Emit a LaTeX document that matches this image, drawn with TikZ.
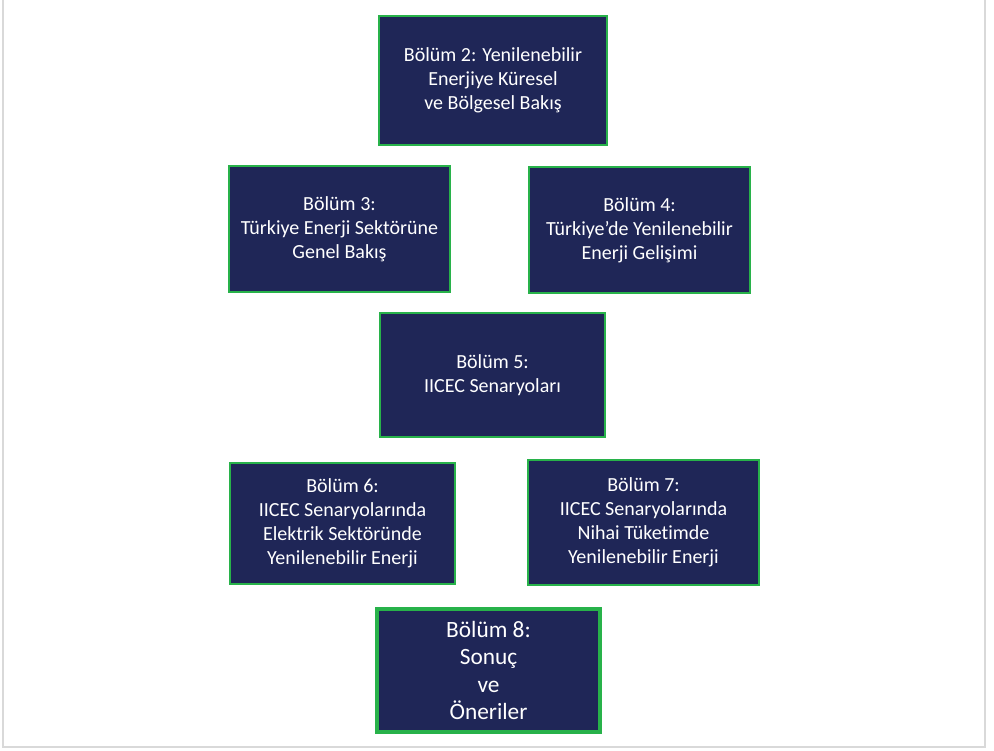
\documentclass[tikz,border=0pt]{standalone}
\usepackage{fontspec}
\setmainfont{Carlito}[Ligatures=NoCommon]

\definecolor{chapnavy}{RGB}{31,38,87}
\definecolor{chapgreen}{RGB}{40,178,74}
\definecolor{framegray}{RGB}{217,217,217}

\tikzset{every picture/.style={line width=0.75pt}}
\tikzset{
  chapbox/.style={draw=chapgreen, fill=chapnavy, text=white, line width=1.5,
    align=center, inner sep=0pt, font=\fontsize{15}{18}\selectfont},
  endbox/.style={chapbox, line width=3, font=\fontsize{17.5}{20.5}\selectfont}
}

\begin{document}
\begin{tikzpicture}[x=0.75pt,y=0.75pt,yscale=-1,xscale=1]
	\useasboundingbox (0,0) rectangle (994,750);

	%Frame
	\draw [color=framegray, line width=1.5]  (3,0) -- (3,747) -- (985,747) -- (985,0) ;

	% Text Node
	\node (ch2) [chapbox, minimum width=171pt, minimum height=96.75pt] at (493,80.5) {Bölüm 2: Yenilenebilir\\Enerjiye Küresel\\ve Bölgesel Bakış};
	% Text Node
	\node (ch3) [chapbox, minimum width=165.75pt, minimum height=94.5pt] at (339.5,229) {Bölüm 3:\\Türkiye Enerji Sektörüne\\Genel Bakış};
	% Text Node
	\node (ch4) [chapbox, minimum width=165.75pt, minimum height=94.5pt] at (639.5,230) {Bölüm 4:\\Türkiye’de Yenilenebilir\\Enerji Gelişimi};
	% Text Node
	\node (ch5) [chapbox, minimum width=168.75pt, minimum height=93pt] at (492.5,375) {Bölüm 5:\\IICEC Senaryoları};
	% Text Node
	\node (ch6) [chapbox, minimum width=168.75pt, minimum height=90.75pt] at (342.5,523.5) {Bölüm 6:\\IICEC Senaryolarında\\Elektrik Sektöründe\\Yenilenebilir Enerji};
	% Text Node
	\node (ch7) [chapbox, minimum width=173.25pt, minimum height=93.75pt] at (643.5,522.5) {Bölüm 7:\\IICEC Senaryolarında\\Nihai Tüketimde\\Yenilenebilir Enerji};
	% Text Node
	\node (ch8) [endbox, minimum width=167.25pt, minimum height=92.25pt] at (488.5,670.5) {Bölüm 8:\\Sonuç\\ve\\Öneriler};

\end{tikzpicture}
\end{document}
